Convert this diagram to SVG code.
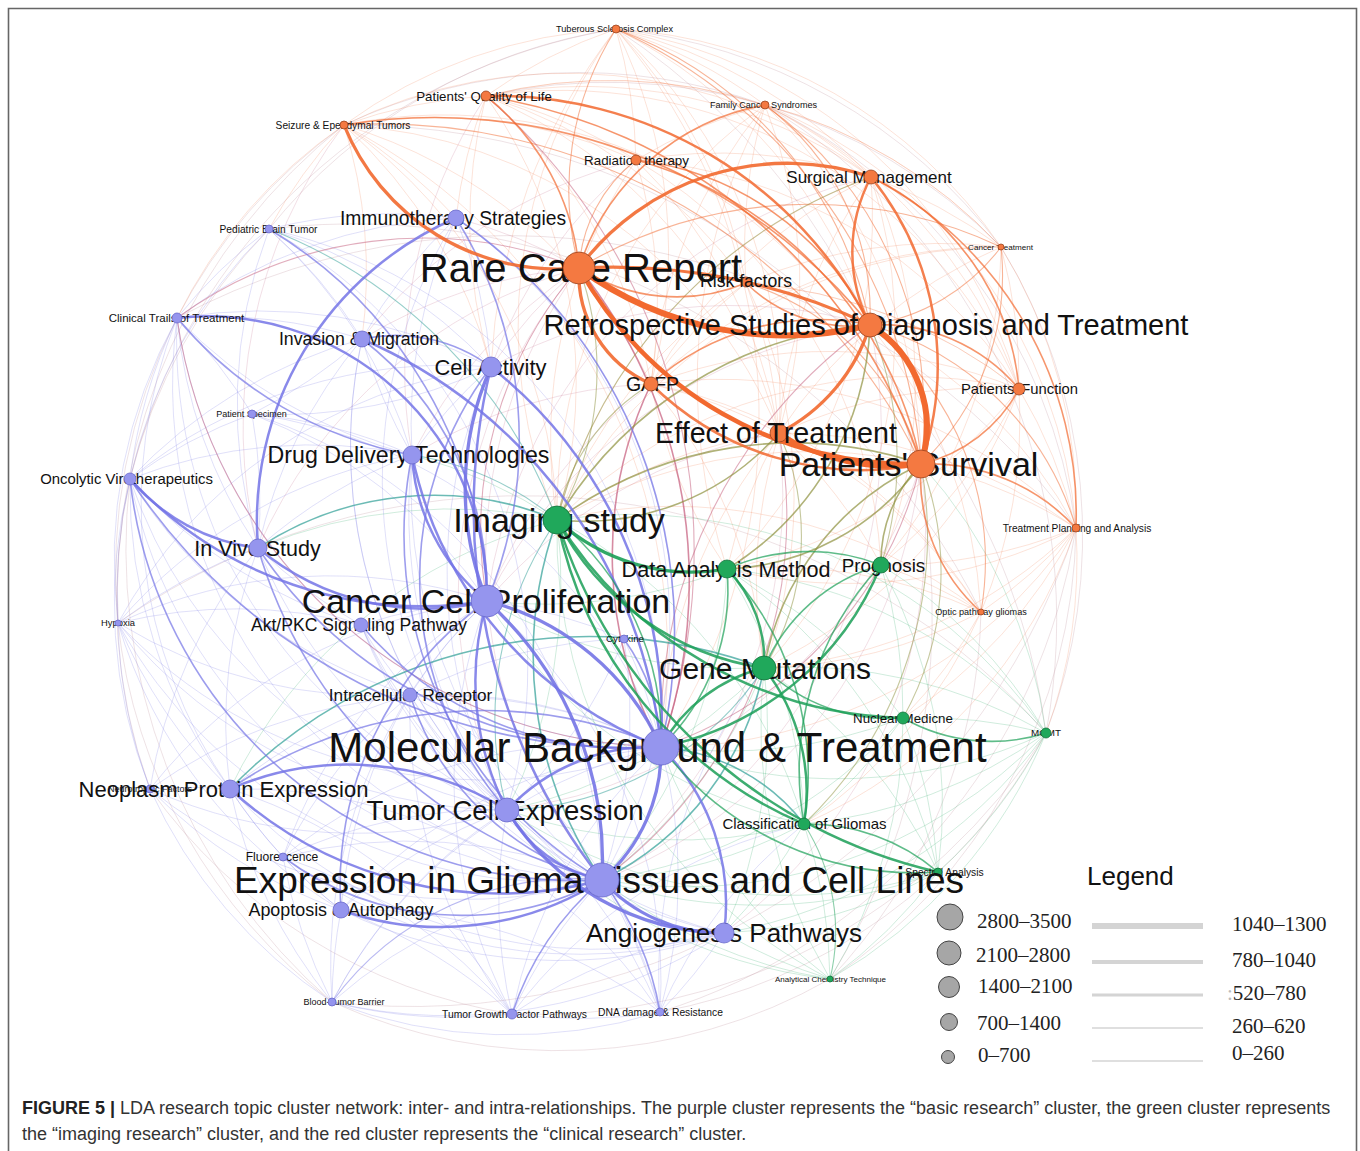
<svg xmlns="http://www.w3.org/2000/svg" width="1360" height="1151" viewBox="0 0 1360 1151">
<style>
.fo path{stroke:#F08050;stroke-width:1;stroke-opacity:.22}
.fp path{stroke:#7C7CE8;stroke-width:1;stroke-opacity:.24}
.fg path{stroke:#2AA866;stroke-width:1;stroke-opacity:.22}
.fx path{stroke:#C06080;stroke-width:1;stroke-opacity:.2}
.fr path{stroke:#C8A0A8;stroke-width:1;stroke-opacity:.3}
.o{stroke:#F2692F}.p{stroke:#7474E6}.g{stroke:#1B9F57}.ol{stroke:#8E913E}.pk{stroke:#C45A7A}.tl{stroke:#2E9E96}
.w1{stroke-width:1.1;stroke-opacity:.5}.w2{stroke-width:1.6;stroke-opacity:.7}.w3{stroke-width:2.5;stroke-opacity:.85}.w4{stroke-width:3.3;stroke-opacity:.9}.w5{stroke-width:4.5}.w6{stroke-width:6}
.no{fill:#F47941;stroke:#9b4420;stroke-width:.8}
.np{fill:#9595EE;stroke:#6a6acb;stroke-width:.8}
.ng{fill:#20A85B;stroke:#11713a;stroke-width:.8}
.lb{font-family:"Liberation Sans",Arial,sans-serif;fill:#111;text-anchor:middle}
.lc{fill:#a6a6a6;stroke:#444;stroke-width:1}
.ll{stroke:#d4d4d4}
.ln{font-family:"Liberation Serif","Times New Roman",serif;font-size:21px;fill:#222}
.cap{font-family:"Liberation Sans",Arial,sans-serif;font-size:18px;fill:#333}
</style>
<rect width="1360" height="1151" fill="#fff"/>
<path d="M8.5 1151V8.5H1356.5V1151" fill="none" stroke="#666" stroke-width="1.6"/>
<g id="connectors" fill="none" stroke-linecap="round">
<g class="fr">
<path d="M616 29A550 550 0 0 1 1001 247"/><path d="M1001 247A550 550 0 0 1 1046 733"/><path d="M1076 528A550 550 0 0 1 830 979"/><path d="M1046 733A550 550 0 0 1 660 1012"/><path d="M830 979A550 550 0 0 1 332 1002"/><path d="M512 1014A550 550 0 0 1 150 789"/><path d="M332 1002A550 550 0 0 1 118 623"/><path d="M150 789A550 550 0 0 1 130 479"/><path d="M118 623A550 550 0 0 1 177 318"/><path d="M130 479A550 550 0 0 1 269 229"/><path d="M177 318A550 550 0 0 1 344 125"/><path d="M269 229A550 550 0 0 1 616 29"/><path d="M344 125A550 550 0 0 1 765 105"/><path d="M765 105A550 550 0 0 1 1076 528"/><path d="M981 612A550 550 0 0 1 830 979"/><path d="M486 96A550 550 0 0 1 1001 247"/>
<path d="M344 125A700 700 0 0 1 1046 733"/><path d="M177 318A700 700 0 0 1 1076 528"/><path d="M118 623A700 700 0 0 1 1046 733"/><path d="M616 29A700 700 0 0 1 830 979"/><path d="M269 229A700 700 0 0 1 981 612"/><path d="M1076 528A700 700 0 0 1 332 1002"/>
<path d="M130 479A600 600 0 0 1 616 29"/><path d="M118 623A600 600 0 0 1 344 125"/><path d="M1046 733A600 600 0 0 1 512 1014"/><path d="M1076 528A600 600 0 0 1 660 1012"/><path d="M332 1002A600 600 0 0 1 130 479"/><path d="M765 105A600 600 0 0 1 1046 733"/>
</g>
<g class="fo">
<path d="M616 29A500 500 0 0 0 486 96"/><path d="M616 29A500 500 0 0 1 636 160"/><path d="M616 29A500 500 0 0 1 871 177"/><path d="M616 29A500 500 0 0 1 765 105"/><path d="M616 29A500 500 0 0 1 651 384"/><path d="M616 29A500 500 0 0 1 779 433"/><path d="M616 29A500 500 0 0 1 1019 389"/><path d="M616 29A500 500 0 0 0 557 520"/><path d="M616 29A500 500 0 0 1 1001 247"/><path d="M616 29A600 600 0 0 1 661 747"/><path d="M616 29A500 500 0 0 1 746 283"/><path d="M616 29A500 500 0 0 0 344 125"/><path d="M616 29A500 500 0 0 1 870 325"/><path d="M616 29A600 600 0 0 0 491 367"/>
<path d="M765 105A500 500 0 0 1 871 177"/><path d="M765 105A500 500 0 0 0 636 160"/><path d="M765 105A500 500 0 0 0 486 96"/><path d="M765 105A500 500 0 0 1 779 433"/><path d="M765 105A500 500 0 0 1 1019 389"/><path d="M765 105A500 500 0 0 1 1001 247"/><path d="M765 105A500 500 0 0 1 1076 528"/><path d="M765 105A500 500 0 0 0 557 520"/><path d="M765 105A500 500 0 0 0 651 384"/><path d="M765 105A500 500 0 0 0 746 283"/><path d="M765 105A500 500 0 0 1 921 464"/><path d="M765 105A600 600 0 0 0 727 569"/>
<path d="M486 96A500 500 0 0 1 636 160"/><path d="M486 96A500 500 0 0 1 871 177"/><path d="M486 96A500 500 0 0 1 765 105"/><path d="M486 96A500 500 0 0 1 651 384"/><path d="M486 96A500 500 0 0 1 779 433"/><path d="M486 96A500 500 0 0 0 456 218"/><path d="M486 96A500 500 0 0 0 344 125"/><path d="M486 96A500 500 0 0 1 557 520"/><path d="M486 96A500 500 0 0 0 491 367"/><path d="M486 96A500 500 0 0 1 1019 389"/><path d="M486 96A500 500 0 0 1 746 283"/>
<path d="M344 125A500 500 0 0 1 636 160"/><path d="M344 125A500 500 0 0 1 456 218"/><path d="M344 125A500 500 0 0 1 779 433"/><path d="M344 125A500 500 0 0 1 651 384"/><path d="M344 125A500 500 0 0 0 269 229"/><path d="M344 125A500 500 0 0 1 557 520"/><path d="M344 125A500 500 0 0 0 177 318"/><path d="M344 125A500 500 0 0 1 362 339"/><path d="M344 125A500 500 0 0 1 871 177"/><path d="M344 125A500 500 0 0 1 921 464"/><path d="M344 125A500 500 0 0 1 491 367"/><path d="M344 125A600 600 0 0 1 661 747"/>
<path d="M1001 247A500 500 0 0 0 871 177"/><path d="M1001 247A500 500 0 0 1 1019 389"/><path d="M1001 247A500 500 0 0 0 779 433"/><path d="M1001 247A500 500 0 0 1 1076 528"/><path d="M1001 247A500 500 0 0 0 765 105"/><path d="M1001 247A500 500 0 0 0 557 520"/><path d="M1001 247A500 500 0 0 0 651 384"/><path d="M1001 247A500 500 0 0 0 746 283"/><path d="M1001 247A500 500 0 0 1 881 565"/>
<path d="M1076 528A500 500 0 0 0 1019 389"/><path d="M1076 528A500 500 0 0 0 779 433"/><path d="M1076 528A500 500 0 0 0 651 384"/><path d="M1076 528A500 500 0 0 0 557 520"/><path d="M1076 528A500 500 0 0 1 727 569"/><path d="M1076 528A500 500 0 0 1 881 565"/><path d="M1076 528A500 500 0 0 1 981 612"/><path d="M1076 528A500 500 0 0 1 764 668"/><path d="M1076 528A500 500 0 0 1 661 747"/><path d="M1076 528A500 500 0 0 1 903 718"/><path d="M1076 528A500 500 0 0 1 1046 733"/><path d="M1076 528A500 500 0 0 0 870 325"/><path d="M1076 528A500 500 0 0 1 804 824"/>
<path d="M981 612A500 500 0 0 0 870 325"/><path d="M981 612A500 500 0 0 0 779 433"/><path d="M981 612A500 500 0 0 0 1019 389"/><path d="M981 612A500 500 0 0 1 764 668"/><path d="M981 612A500 500 0 0 0 881 565"/><path d="M981 612A500 500 0 0 0 557 520"/><path d="M981 612A500 500 0 0 0 727 569"/><path d="M981 612A500 500 0 0 1 903 718"/><path d="M981 612A500 500 0 0 1 804 824"/><path d="M981 612A500 500 0 0 0 651 384"/>
<path d="M636 160A500 500 0 0 1 871 177"/><path d="M636 160A500 500 0 0 1 779 433"/><path d="M636 160A500 500 0 0 1 651 384"/><path d="M636 160A500 500 0 0 0 557 520"/><path d="M636 160A500 500 0 0 1 1019 389"/><path d="M636 160A500 500 0 0 1 881 565"/>
<path d="M871 177A500 500 0 0 0 779 433"/><path d="M871 177A500 500 0 0 0 651 384"/><path d="M871 177A500 500 0 0 0 557 520"/><path d="M871 177A500 500 0 0 1 727 569"/><path d="M871 177A500 500 0 0 1 881 565"/><path d="M871 177A500 500 0 0 1 764 668"/>
<path d="M1019 389A500 500 0 0 0 779 433"/><path d="M1019 389A500 500 0 0 0 651 384"/><path d="M1019 389A500 500 0 0 0 557 520"/><path d="M1019 389A500 500 0 0 1 727 569"/><path d="M1019 389A500 500 0 0 1 881 565"/><path d="M1019 389A500 500 0 0 1 764 668"/><path d="M1019 389A500 500 0 0 0 746 283"/>
<path d="M746 283A500 500 0 0 1 779 433"/><path d="M746 283A500 500 0 0 0 557 520"/><path d="M746 283A500 500 0 0 1 1019 389"/><path d="M746 283A500 500 0 0 0 651 384"/><path d="M746 283A500 500 0 0 1 764 668"/>
<path d="M651 384A500 500 0 0 1 779 433"/><path d="M651 384A500 500 0 0 0 727 569"/><path d="M651 384A500 500 0 0 1 764 668"/>
<path d="M779 433A500 500 0 0 0 727 569"/><path d="M779 433A500 500 0 0 1 881 565"/><path d="M779 433A500 500 0 0 0 764 668"/><path d="M779 433A500 500 0 0 0 661 747"/><path d="M779 433A500 500 0 0 0 557 520"/>
</g>
<g class="fp">
<path d="M118 623A500 500 0 0 1 130 479"/><path d="M118 623A500 500 0 0 1 258 548"/><path d="M118 623A500 500 0 0 1 487 601"/><path d="M118 623A500 500 0 0 1 361 625"/><path d="M118 623A500 500 0 0 0 230 789"/><path d="M118 623A500 500 0 0 0 661 747"/><path d="M118 623A500 500 0 0 0 602 880"/><path d="M118 623A500 500 0 0 1 177 318"/><path d="M118 623A500 500 0 0 1 412 455"/><path d="M118 623A500 500 0 0 0 410 695"/><path d="M118 623A500 500 0 0 0 150 789"/><path d="M118 623A500 500 0 0 0 341 910"/><path d="M118 623A500 500 0 0 0 507 810"/><path d="M118 623A500 500 0 0 1 491 367"/>
<path d="M332 1002A500 500 0 0 1 341 910"/><path d="M332 1002A500 500 0 0 1 602 880"/><path d="M332 1002A500 500 0 0 0 512 1014"/><path d="M332 1002A500 500 0 0 1 230 789"/><path d="M332 1002A500 500 0 0 1 661 747"/><path d="M332 1002A500 500 0 0 1 487 601"/><path d="M332 1002A500 500 0 0 1 507 810"/><path d="M332 1002A500 500 0 0 1 283 857"/><path d="M332 1002A500 500 0 0 0 724 933"/><path d="M332 1002A500 500 0 0 0 660 1012"/><path d="M332 1002A500 500 0 0 1 150 789"/>
<path d="M512 1014A500 500 0 0 1 724 933"/><path d="M512 1014A500 500 0 0 1 602 880"/><path d="M512 1014A500 500 0 0 1 507 810"/><path d="M512 1014A500 500 0 0 1 661 747"/><path d="M512 1014A500 500 0 0 0 341 910"/><path d="M512 1014A500 500 0 0 0 660 1012"/><path d="M512 1014A500 500 0 0 1 487 601"/><path d="M512 1014A500 500 0 0 1 410 695"/><path d="M512 1014A500 500 0 0 0 283 857"/><path d="M512 1014A500 500 0 0 0 230 789"/><path d="M512 1014A500 500 0 0 1 804 824"/>
<path d="M660 1012A500 500 0 0 0 724 933"/><path d="M660 1012A500 500 0 0 0 602 880"/><path d="M660 1012A500 500 0 0 0 661 747"/><path d="M660 1012A500 500 0 0 0 507 810"/><path d="M660 1012A500 500 0 0 0 341 910"/><path d="M660 1012A500 500 0 0 0 487 601"/><path d="M660 1012A500 500 0 0 0 410 695"/><path d="M660 1012A500 500 0 0 0 230 789"/><path d="M660 1012A500 500 0 0 1 804 824"/><path d="M660 1012A500 500 0 0 1 764 668"/>
<path d="M252 414A500 500 0 0 0 177 318"/><path d="M252 414A500 500 0 0 1 258 548"/><path d="M252 414A500 500 0 0 1 412 455"/><path d="M252 414A500 500 0 0 0 362 339"/><path d="M252 414A500 500 0 0 0 130 479"/><path d="M252 414A500 500 0 0 1 487 601"/><path d="M252 414A500 500 0 0 1 661 747"/><path d="M252 414A500 500 0 0 0 491 367"/><path d="M252 414A500 500 0 0 1 602 880"/>
<path d="M269 229A500 500 0 0 0 177 318"/><path d="M269 229A500 500 0 0 1 456 218"/><path d="M269 229A500 500 0 0 1 362 339"/><path d="M269 229A500 500 0 0 1 491 367"/><path d="M269 229A500 500 0 0 1 412 455"/><path d="M269 229A500 500 0 0 0 130 479"/><path d="M269 229A500 500 0 0 1 661 747"/><path d="M269 229A500 500 0 0 0 258 548"/><path d="M269 229A500 500 0 0 1 507 810"/>
<path d="M283 857A500 500 0 0 1 230 789"/><path d="M283 857A500 500 0 0 1 602 880"/><path d="M283 857A500 500 0 0 0 341 910"/><path d="M283 857A500 500 0 0 1 507 810"/><path d="M283 857A500 500 0 0 1 661 747"/><path d="M283 857A500 500 0 0 1 487 601"/><path d="M283 857A500 500 0 0 1 410 695"/><path d="M283 857A500 500 0 0 0 724 933"/>
<path d="M150 789A500 500 0 0 1 230 789"/><path d="M150 789A500 500 0 0 1 130 479"/><path d="M150 789A500 500 0 0 0 602 880"/><path d="M150 789A500 500 0 0 0 507 810"/><path d="M150 789A500 500 0 0 1 661 747"/><path d="M150 789A500 500 0 0 1 258 548"/><path d="M150 789A500 500 0 0 0 341 910"/><path d="M150 789A500 500 0 0 1 487 601"/>
<path d="M624 639A500 500 0 0 0 487 601"/><path d="M624 639A500 500 0 0 1 661 747"/><path d="M624 639A500 500 0 0 1 602 880"/><path d="M624 639A500 500 0 0 1 507 810"/><path d="M624 639A500 500 0 0 0 410 695"/>
<path d="M130 479A500 500 0 0 1 177 318"/><path d="M130 479A500 500 0 0 1 412 455"/><path d="M130 479A500 500 0 0 1 362 339"/><path d="M130 479A500 500 0 0 0 361 625"/><path d="M130 479A500 500 0 0 0 230 789"/><path d="M130 479A500 500 0 0 0 602 880"/><path d="M130 479A500 500 0 0 0 507 810"/><path d="M130 479A500 500 0 0 1 491 367"/><path d="M130 479A500 500 0 0 0 410 695"/>
<path d="M177 318A500 500 0 0 1 362 339"/><path d="M177 318A500 500 0 0 0 258 548"/><path d="M177 318A500 500 0 0 0 412 455"/><path d="M177 318A500 500 0 0 1 491 367"/><path d="M177 318A500 500 0 0 0 661 747"/><path d="M177 318A500 500 0 0 1 456 218"/><path d="M177 318A500 500 0 0 0 602 880"/><path d="M177 318A500 500 0 0 0 507 810"/><path d="M177 318A500 500 0 0 0 230 789"/>
<path d="M456 218A500 500 0 0 0 362 339"/><path d="M456 218A500 500 0 0 1 491 367"/><path d="M456 218A500 500 0 0 0 412 455"/><path d="M456 218A500 500 0 0 1 602 880"/><path d="M456 218A500 500 0 0 0 507 810"/><path d="M456 218A500 500 0 0 1 661 747"/>
<path d="M361 625A500 500 0 0 1 487 601"/><path d="M361 625A500 500 0 0 0 602 880"/><path d="M361 625A500 500 0 0 0 507 810"/><path d="M361 625A500 500 0 0 1 258 548"/><path d="M361 625A500 500 0 0 0 410 695"/><path d="M361 625A500 500 0 0 0 724 933"/>
<path d="M410 695A500 500 0 0 1 487 601"/><path d="M410 695A500 500 0 0 1 661 747"/><path d="M410 695A500 500 0 0 0 507 810"/><path d="M410 695A500 500 0 0 0 724 933"/><path d="M410 695A500 500 0 0 0 230 789"/>
<path d="M341 910A500 500 0 0 1 507 810"/><path d="M341 910A500 500 0 0 1 661 747"/><path d="M341 910A500 500 0 0 0 724 933"/><path d="M341 910A500 500 0 0 1 230 789"/><path d="M341 910A500 500 0 0 1 410 695"/>
<path d="M362 339A500 500 0 0 0 412 455"/><path d="M362 339A500 500 0 0 0 258 548"/><path d="M362 339A500 500 0 0 0 602 880"/><path d="M362 339A500 500 0 0 0 507 810"/><path d="M491 367A500 500 0 0 0 412 455"/><path d="M491 367A500 500 0 0 0 507 810"/><path d="M412 455A500 500 0 0 0 602 880"/><path d="M412 455A500 500 0 0 0 507 810"/><path d="M412 455A500 500 0 0 0 258 548"/><path d="M258 548A500 500 0 0 0 507 810"/><path d="M258 548A500 500 0 0 0 230 789"/><path d="M230 789A500 500 0 0 0 724 933"/>
</g>
<g class="fg">
<path d="M1046 733A500 500 0 0 0 764 668"/><path d="M1046 733A500 500 0 0 0 881 565"/><path d="M1046 733A500 500 0 0 1 938 872"/><path d="M1046 733A500 500 0 0 1 804 824"/><path d="M1046 733A500 500 0 0 0 727 569"/><path d="M1046 733A500 500 0 0 0 557 520"/><path d="M1046 733A500 500 0 0 1 661 747"/><path d="M1046 733A500 500 0 0 0 903 718"/><path d="M1046 733A500 500 0 0 0 921 464"/><path d="M1046 733A500 500 0 0 1 602 880"/><path d="M1046 733A500 500 0 0 1 724 933"/>
<path d="M830 979A500 500 0 0 0 804 824"/><path d="M830 979A500 500 0 0 0 938 872"/><path d="M830 979A500 500 0 0 1 764 668"/><path d="M830 979A500 500 0 0 1 661 747"/><path d="M830 979A500 500 0 0 1 724 933"/><path d="M830 979A500 500 0 0 1 557 520"/><path d="M830 979A500 500 0 0 0 903 718"/><path d="M830 979A500 500 0 0 1 602 880"/><path d="M830 979A500 500 0 0 0 1046 733"/><path d="M830 979A500 500 0 0 1 507 810"/>
<path d="M938 872A500 500 0 0 0 903 718"/><path d="M938 872A500 500 0 0 0 764 668"/><path d="M938 872A500 500 0 0 0 881 565"/><path d="M938 872A500 500 0 0 0 727 569"/><path d="M938 872A500 500 0 0 1 602 880"/><path d="M938 872A500 500 0 0 1 724 933"/><path d="M938 872A500 500 0 0 1 507 810"/>
<path d="M903 718A500 500 0 0 0 881 565"/><path d="M903 718A500 500 0 0 0 727 569"/><path d="M903 718A500 500 0 0 1 804 824"/><path d="M903 718A500 500 0 0 1 661 747"/><path d="M903 718A500 500 0 0 1 602 880"/>
<path d="M804 824A500 500 0 0 0 727 569"/><path d="M804 824A500 500 0 0 1 724 933"/><path d="M804 824A500 500 0 0 1 602 880"/><path d="M804 824A500 500 0 0 1 507 810"/><path d="M804 824A500 500 0 0 0 557 520"/><path d="M804 824A500 500 0 0 1 487 601"/>
<path d="M764 668A500 500 0 0 1 602 880"/><path d="M764 668A500 500 0 0 1 507 810"/><path d="M764 668A500 500 0 0 1 487 601"/><path d="M764 668A500 500 0 0 1 724 933"/><path d="M727 569A500 500 0 0 1 487 601"/><path d="M727 569A500 500 0 0 1 602 880"/><path d="M557 520A500 500 0 0 0 412 455"/><path d="M557 520A500 500 0 0 0 258 548"/><path d="M557 520A500 500 0 0 0 230 789"/><path d="M557 520A500 500 0 0 1 507 810"/>
</g>
<g class="fx">
<path d="M579 268A500 500 0 0 0 491 367"/><path d="M579 268A500 500 0 0 0 456 218"/><path d="M579 268A500 500 0 0 0 412 455"/><path d="M579 268A500 500 0 0 0 362 339"/><path d="M579 268A500 500 0 0 0 507 810"/><path d="M579 268A500 500 0 0 0 602 880"/><path d="M579 268A500 500 0 0 0 258 548"/><path d="M870 325A500 500 0 0 0 487 601"/><path d="M870 325A500 500 0 0 0 491 367"/><path d="M870 325A500 500 0 0 1 602 880"/><path d="M921 464A500 500 0 0 1 602 880"/><path d="M921 464A500 500 0 0 1 724 933"/><path d="M921 464A500 500 0 0 1 507 810"/><path d="M651 384A500 500 0 0 0 487 601"/><path d="M651 384A500 500 0 0 0 412 455"/><path d="M779 433A500 500 0 0 0 487 601"/><path d="M779 433A500 500 0 0 1 602 880"/><path d="M636 160A500 500 0 0 0 491 367"/><path d="M636 160A500 500 0 0 0 362 339"/><path d="M871 177A500 500 0 0 0 487 601"/><path d="M344 125A500 500 0 0 0 258 548"/><path d="M486 96A500 500 0 0 0 412 455"/>
</g>
<path class="o w1" d="M616 29A400 400 0 0 1 870 325"/>
<path class="o w1" d="M616 29A520 520 0 0 1 921 464"/>
<path class="o w1" d="M765 105A380 380 0 0 1 921 464"/>
<path class="o w1" d="M1001 247A260 260 0 0 1 921 464"/>
<path class="o w1" d="M1001 247A450 450 0 0 0 579 268"/>
<path class="o w1" d="M344 125A600 600 0 0 1 921 464"/>
<path class="o w1" d="M981 612A300 300 0 0 0 870 325"/>
<path class="o w1" d="M636 160A150 150 0 0 0 579 268"/>
<path class="o w1" d="M765 105A260 260 0 0 1 870 325"/>
<path class="o w1" d="M616 29A300 300 0 0 0 579 268"/>
<path class="o w1" d="M1076 528A300 300 0 0 0 870 325"/>
<path class="o w1" d="M1001 247A200 200 0 0 1 870 325"/>
<path class="o w1" d="M746 283A260 260 0 0 1 921 464"/>
<path class="pk w1" d="M870 325A500 500 0 0 0 661 747"/>
<path class="pk w1" d="M921 464A400 400 0 0 1 661 747"/>
<path class="pk w1" d="M177 318A420 420 0 0 1 579 268"/>
<path class="pk w1" d="M579 268A400 400 0 0 0 487 601"/>
<path class="pk w1" d="M779 433A450 450 0 0 1 602 880"/>
<path class="pk w1" d="M486 96A600 600 0 0 1 661 747"/>
<path class="pk w1" d="M177 318A500 500 0 0 0 661 747"/>
<path class="pk w2" d="M579 268A500 500 0 0 1 661 747"/>
<path class="pk w2" d="M651 384A400 400 0 0 0 661 747"/>
<path class="tl w2" d="M557 520A400 400 0 0 0 602 880"/>
<path class="tl w2" d="M258 548A320 320 0 0 1 557 520"/>
<path class="tl w1" d="M412 455A300 300 0 0 1 557 520"/>
<path class="tl w2" d="M764 668A300 300 0 0 1 602 880"/>
<path class="tl w1" d="M764 668A320 320 0 0 1 507 810"/>
<path class="tl w2" d="M230 789A500 500 0 0 1 764 668"/>
<path class="tl w1" d="M269 229A500 500 0 0 1 557 520"/>
<path class="tl w1" d="M557 520A350 350 0 0 0 507 810"/>
<path class="ol w2" d="M921 464A400 400 0 0 0 557 520"/>
<path class="ol w2" d="M921 464A140 140 0 0 0 881 565"/>
<path class="ol w2" d="M921 464A280 280 0 0 0 764 668"/>
<path class="ol w2" d="M921 464A250 250 0 0 1 727 569"/>
<path class="ol w2" d="M870 325A400 400 0 0 0 557 520"/>
<path class="ol w2" d="M870 325A300 300 0 0 1 727 569"/>
<path class="ol w2" d="M779 433A260 260 0 0 1 557 520"/>
<path class="ol w1" d="M651 384A200 200 0 0 0 557 520"/>
<path class="ol w1" d="M579 268A300 300 0 0 1 557 520"/>
<path class="ol w1" d="M921 464A300 300 0 0 1 903 718"/>
<path class="ol w1" d="M871 177A500 500 0 0 0 557 520"/>
<path class="ol w1" d="M921 464A400 400 0 0 1 804 824"/>
<path class="ol w1" d="M779 433A250 250 0 0 1 764 668"/>
<path class="ol w1" d="M870 325A350 350 0 0 1 881 565"/>
<path class="p w1" d="M332 1002A300 300 0 0 1 602 880"/>
<path class="p w2" d="M130 479A600 600 0 0 0 661 747"/>
<path class="p w2" d="M258 548A450 450 0 0 0 661 747"/>
<path class="p w2" d="M362 339A320 320 0 0 1 487 601"/>
<path class="p w2" d="M362 339A160 160 0 0 1 491 367"/>
<path class="p w2" d="M230 789A450 450 0 0 1 661 747"/>
<path class="p w2" d="M341 910A350 350 0 0 1 487 601"/>
<path class="p w2" d="M410 695A280 280 0 0 0 602 880"/>
<path class="p w2" d="M361 625A350 350 0 0 0 661 747"/>
<path class="p w2" d="M258 548A480 480 0 0 0 602 880"/>
<path class="p w2" d="M269 229A450 450 0 0 1 487 601"/>
<path class="p w2" d="M456 218A420 420 0 0 1 487 601"/>
<path class="p w2" d="M456 218A500 500 0 0 1 661 747"/>
<path class="p w2" d="M130 479A450 450 0 0 0 602 880"/>
<path class="p w2" d="M177 318A400 400 0 0 0 412 455"/>
<path class="p w2" d="M412 455A400 400 0 0 0 602 880"/>
<path class="p w2" d="M491 367A350 350 0 0 0 507 810"/>
<path class="p w2" d="M512 1014A300 300 0 0 1 602 880"/>
<path class="p w2" d="M660 1012A300 300 0 0 0 602 880"/>
<path class="p w2" d="M283 857A300 300 0 0 0 602 880"/>
<path class="p w2" d="M624 639A200 200 0 0 1 661 747"/>
<path class="p w3" d="M177 318A280 280 0 0 1 487 601"/>
<path class="p w3" d="M456 218A330 330 0 0 0 258 548"/>
<path class="p w3" d="M130 479A200 200 0 0 0 258 548"/>
<path class="p w3" d="M130 479A400 400 0 0 0 487 601"/>
<path class="p w3" d="M258 548A260 260 0 0 0 487 601"/>
<path class="p w4" d="M491 367A300 300 0 0 0 487 601"/>
<path class="p w3" d="M491 367A450 450 0 0 1 661 747"/>
<path class="p w3" d="M491 367A600 600 0 0 0 602 880"/>
<path class="p w4" d="M487 601A350 350 0 0 1 602 880"/>
<path class="p w3" d="M487 601A280 280 0 0 0 507 810"/>
<path class="p w4" d="M487 601A260 260 0 0 1 661 747"/>
<path class="p w3" d="M362 339A500 500 0 0 1 661 747"/>
<path class="p w3" d="M412 455A400 400 0 0 0 661 747"/>
<path class="p w3" d="M412 455A200 200 0 0 0 487 601"/>
<path class="p w3" d="M230 789A300 300 0 0 1 507 810"/>
<path class="p w3" d="M230 789A400 400 0 0 0 602 880"/>
<path class="p w4" d="M507 810A260 260 0 0 0 724 933"/>
<path class="p w4" d="M602 880A160 160 0 0 0 724 933"/>
<path class="p w3" d="M661 747A220 220 0 0 1 724 933"/>
<path class="p w3" d="M507 810A140 140 0 0 0 602 880"/>
<path class="p w4" d="M661 747A170 170 0 0 1 602 880"/>
<path class="p w3" d="M661 747A200 200 0 0 0 507 810"/>
<path class="p w3" d="M341 910A300 300 0 0 0 602 880"/>
<path class="g w1" d="M830 979A200 200 0 0 0 804 824"/>
<path class="g w2" d="M727 569A200 200 0 0 1 881 565"/>
<path class="g w2" d="M727 569A220 220 0 0 1 661 747"/>
<path class="g w2" d="M881 565A180 180 0 0 0 764 668"/>
<path class="g w2" d="M881 565A300 300 0 0 0 804 824"/>
<path class="g w2" d="M764 668A180 180 0 0 0 903 718"/>
<path class="tl w2" d="M661 747A200 200 0 0 1 804 824"/>
<path class="g w2" d="M661 747A320 320 0 0 0 938 872"/>
<path class="g w2" d="M903 718A180 180 0 0 0 1046 733"/>
<path class="g w2" d="M804 824A200 200 0 0 1 938 872"/>
<path class="g w2" d="M727 569A300 300 0 0 1 804 824"/>
<path class="g w2" d="M557 520A280 280 0 0 1 661 747"/>
<path class="g w3" d="M557 520A280 280 0 0 0 764 668"/>
<path class="g w3" d="M557 520A420 420 0 0 0 804 824"/>
<path class="g w3" d="M557 520A420 420 0 0 0 903 718"/>
<path class="g w3" d="M557 520A520 520 0 0 0 938 872"/>
<path class="g w3" d="M727 569A130 130 0 0 1 764 668"/>
<path class="g w3" d="M881 565A300 300 0 0 1 661 747"/>
<path class="g w3" d="M764 668A160 160 0 0 0 661 747"/>
<path class="g w3" d="M764 668A200 200 0 0 1 804 824"/>
<path class="g w4" d="M557 520A200 200 0 0 0 727 569"/>
<path class="o w2" d="M486 96A550 550 0 0 1 921 464"/>
<path class="o w2" d="M486 96A250 250 0 0 1 579 268"/>
<path class="o w2" d="M636 160A400 400 0 0 1 921 464"/>
<path class="o w2" d="M636 160A300 300 0 0 1 870 325"/>
<path class="o w2" d="M765 105A240 240 0 0 0 579 268"/>
<path class="o w2" d="M1019 389A180 180 0 0 0 870 325"/>
<path class="o w2" d="M1019 389A150 150 0 0 1 921 464"/>
<path class="o w2" d="M871 177A260 260 0 0 1 1019 389"/>
<path class="o w2" d="M1076 528A200 200 0 0 0 921 464"/>
<path class="o w2" d="M1076 528A380 380 0 0 0 871 177"/>
<path class="o w2" d="M651 384A250 250 0 0 1 870 325"/>
<path class="o w2" d="M746 283A150 150 0 0 0 870 325"/>
<path class="o w2" d="M746 283A180 180 0 0 1 579 268"/>
<path class="o w2" d="M981 612A180 180 0 0 1 921 464"/>
<path class="o w2" d="M344 125A560 560 0 0 1 870 325"/>
<path class="o w3" d="M486 96A420 420 0 0 1 870 325"/>
<path class="o w3" d="M871 177A300 300 0 0 1 921 464"/>
<path class="o w3" d="M871 177A160 160 0 0 0 870 325"/>
<path class="o w3" d="M651 384A300 300 0 0 0 921 464"/>
<path class="o w4" d="M579 268A600 600 0 0 1 870 325"/>
<path class="o w4" d="M579 268A120 120 0 0 0 651 384"/>
<path class="o w4" d="M870 325A180 180 0 0 1 779 433"/>
<path class="o w4" d="M579 268A260 260 0 0 1 871 177"/>
<path class="o w4" d="M344 125A230 230 0 0 0 579 268"/>
<path class="o w5" d="M579 268A380 380 0 0 0 921 464"/>
<path class="o w5" d="M779 433A200 200 0 0 0 921 464"/>
<path class="o w6" d="M579 268A350 350 0 0 0 870 325"/>
<path class="o w6" d="M870 325A120 120 0 0 1 921 464"/>
</g>
<g id="nodes">
<g id="n-tsc"><text class="lb" x="614.5" y="32.3" font-size="9.2">Tuberous Sclerosis Complex</text><circle class="no" cx="616" cy="29" r="4"/></g>
<g id="n-pql"><text class="lb" x="484" y="100.7" font-size="13.3">Patients' Quality of Life</text><circle class="no" cx="486" cy="96" r="5"/></g>
<g id="n-fcs"><text class="lb" x="763.5" y="108.3" font-size="9.1">Family Cancer Syndromes</text><circle class="no" cx="765" cy="105" r="4"/></g>
<g id="n-set"><text class="lb" x="343" y="128.6" font-size="10.2">Seizure &amp; Ependymal Tumors</text><circle class="no" cx="344" cy="125" r="4"/></g>
<g id="n-rt"><text class="lb" x="636.5" y="164.7" font-size="13.4">Radiation therapy</text><circle class="no" cx="636" cy="160" r="5"/></g>
<g id="n-sm"><text class="lb" x="869" y="183" font-size="17">Surgical Management</text><circle class="no" cx="871" cy="177" r="7"/></g>
<g id="n-ct"><text class="lb" x="1000.5" y="249.9" font-size="8.1">Cancer Treatment</text><circle class="no" cx="1001" cy="247" r="3"/></g>
<g id="n-rf"><circle class="no" cx="746" cy="282" r="5"/><text class="lb" x="746" y="287" font-size="17.6">Risk factors</text></g>
<g id="n-rcr"><text class="lb" x="581" y="282" font-size="40">Rare Case Report</text><circle class="no" cx="579" cy="268" r="16"/></g>
<g id="n-rs"><text class="lb" x="866" y="335.4" font-size="29">Retrospective Studies of Diagnosis and Treatment</text><circle class="no" cx="870" cy="325" r="12"/></g>
<g id="n-gafp"><text class="lb" x="652.5" y="391" font-size="19.5">GAFP</text><circle class="no" cx="651" cy="384" r="7"/></g>
<g id="n-pf"><text class="lb" x="1019.5" y="394.2" font-size="14.8">Patients' Function</text><circle class="no" cx="1019" cy="389" r="6"/></g>
<g id="n-et"><circle class="no" cx="779" cy="433" r="9"/><text class="lb" x="776" y="443" font-size="28.7">Effect of Treatment</text></g>
<g id="n-ps"><text class="lb" x="908.5" y="476" font-size="34">Patients' Survival</text><circle class="no" cx="921" cy="464" r="14"/></g>
<g id="n-tpa"><text class="lb" x="1077" y="531.6" font-size="10.2">Treatment Planning and Analysis</text><circle class="no" cx="1076" cy="528" r="4"/></g>
<g id="n-opg"><text class="lb" x="981" y="615.3" font-size="9.1">Optic pathway gliomas</text><circle class="no" cx="981" cy="612" r="3"/></g>
<g id="n-is"><text class="lb" x="559" y="532" font-size="34">Imaging study</text><circle class="ng" cx="557" cy="520" r="14"/></g>
<g id="n-dam"><text class="lb" x="726" y="576.6" font-size="21.6">Data Analysis Method</text><circle class="ng" cx="727" cy="569" r="9"/></g>
<g id="n-pr"><text class="lb" x="883.5" y="571.6" font-size="18.8">Prognosis</text><circle class="ng" cx="881" cy="565" r="8"/></g>
<g id="n-gm"><text class="lb" x="765" y="678.5" font-size="30">Gene Mutations</text><circle class="ng" cx="764" cy="668" r="12"/></g>
<g id="n-nm"><text class="lb" x="903" y="722.7" font-size="13.3">Nuclear Medicne</text><circle class="ng" cx="903" cy="718" r="6"/></g>
<g id="n-mgmt"><text class="lb" x="1046" y="736.4" font-size="9.8">MGMT</text><circle class="ng" cx="1046" cy="733" r="5"/></g>
<g id="n-cg"><text class="lb" x="804.5" y="829.3" font-size="15">Classification of Gliomas</text><circle class="ng" cx="804" cy="824" r="6"/></g>
<g id="n-sa"><text class="lb" x="944.5" y="875.6" font-size="10.3">Spectral Analysis</text><circle class="ng" cx="938" cy="872" r="4"/></g>
<g id="n-act"><text class="lb" x="830.5" y="981.8" font-size="8">Analytical Chemistry Technique</text><circle class="ng" cx="830" cy="979" r="3"/></g>
<g id="n-ims"><text class="lb" x="453" y="224.8" font-size="19.3">Immunotherapy Strategies</text><circle class="np" cx="456" cy="218" r="8"/></g>
<g id="n-pbt"><text class="lb" x="268.5" y="232.6" font-size="10.2">Pediatric Brain Tumor</text><circle class="np" cx="269" cy="229" r="4"/></g>
<g id="n-ctt"><text class="lb" x="176.5" y="322" font-size="11.5">Clinical Trails of Treatment</text><circle class="np" cx="177" cy="318" r="5"/></g>
<g id="n-im"><text class="lb" x="359" y="345.2" font-size="17.7">Invasion &amp; Migration</text><circle class="np" cx="362" cy="339" r="8"/></g>
<g id="n-ca"><text class="lb" x="490.5" y="374.7" font-size="21.9">Cell Activity</text><circle class="np" cx="491" cy="367" r="10"/></g>
<g id="n-psp"><text class="lb" x="251.5" y="417.2" font-size="9">Patient Specimen</text><circle class="np" cx="252" cy="414" r="4"/></g>
<g id="n-ddt"><text class="lb" x="408.5" y="463.1" font-size="23.2">Drug Delivery Technologies</text><circle class="np" cx="412" cy="455" r="9"/></g>
<g id="n-ov"><text class="lb" x="126.5" y="484.2" font-size="14.9">Oncolytic Virotherapeutics</text><circle class="np" cx="130" cy="479" r="6"/></g>
<g id="n-ivs"><text class="lb" x="257.5" y="555.5" font-size="21.5">In Vivo Study</text><circle class="np" cx="258" cy="548" r="9"/></g>
<g id="n-ccp"><text class="lb" x="486" y="613" font-size="34">Cancer Cell Proliferation</text><circle class="np" cx="487" cy="601" r="16"/></g>
<g id="n-hy"><text class="lb" x="118" y="626.3" font-size="9.4">Hypoxia</text><circle class="np" cx="118" cy="623" r="3"/></g>
<g id="n-akt"><text class="lb" x="359" y="631.2" font-size="17.6">Akt/PKC Signaling Pathway</text><circle class="np" cx="361" cy="625" r="7"/></g>
<g id="n-cy"><text class="lb" x="625" y="642.4" font-size="9.8">Cytokine</text><circle class="np" cx="624" cy="639" r="4"/></g>
<g id="n-ir"><text class="lb" x="410.5" y="701" font-size="17.2">Intracellular Receptor</text><circle class="np" cx="410" cy="695" r="7"/></g>
<g id="n-mbt"><text class="lb" x="657.5" y="761.7" font-size="42">Molecular Background &amp; Treatment</text><circle class="np" cx="661" cy="747" r="18"/></g>
<g id="n-nf"><text class="lb" x="150" y="792.2" font-size="9">Neurotrophic Factors</text><circle class="np" cx="150" cy="789" r="4"/></g>
<g id="n-npe"><text class="lb" x="223.5" y="796.7" font-size="22">Neoplasm Protein Expression</text><circle class="np" cx="230" cy="789" r="9"/></g>
<g id="n-tce"><text class="lb" x="505" y="819.6" font-size="27.5">Tumor Cell Expression</text><circle class="np" cx="507" cy="810" r="12"/></g>
<g id="n-fl"><text class="lb" x="282" y="861.2" font-size="12.1">Fluorescence</text><circle class="np" cx="283" cy="857" r="4"/></g>
<g id="n-egt"><text class="lb" x="599" y="893" font-size="37">Expression in Glioma Tissues and Cell Lines</text><circle class="np" cx="602" cy="880" r="17"/></g>
<g id="n-aa"><text class="lb" x="341" y="916.3" font-size="17.9">Apoptosis &amp; Autophagy</text><circle class="np" cx="341" cy="910" r="8"/></g>
<g id="n-ap"><text class="lb" x="724" y="942" font-size="26">Angiogenesis Pathways</text><circle class="np" cx="724" cy="933" r="10"/></g>
<g id="n-btb"><text class="lb" x="344" y="1005" font-size="9">Blood-Tumor Barrier</text><circle class="np" cx="332" cy="1002" r="4"/></g>
<g id="n-tgf"><text class="lb" x="514.5" y="1017.6" font-size="10.3">Tumor Growth Factor Pathways</text><circle class="np" cx="512" cy="1014" r="5"/></g>
<g id="n-dna"><text class="lb" x="660.5" y="1015.6" font-size="10.3">DNA damage &amp; Resistance</text><circle class="np" cx="660" cy="1012" r="4"/></g>
</g>
<g id="legend">
<text x="1087" y="885" font-family="Liberation Sans, Arial, sans-serif" font-size="26" fill="#111">Legend</text>
<circle class="lc" cx="950" cy="917" r="13"/>
<circle class="lc" cx="949" cy="953" r="12"/>
<circle class="lc" cx="949" cy="987" r="10.5"/>
<circle class="lc" cx="949" cy="1022" r="8.5"/>
<circle class="lc" cx="948" cy="1057" r="6.5"/>
<text class="ln" x="977" y="928">2800–3500</text>
<text class="ln" x="976" y="962">2100–2800</text>
<text class="ln" x="978" y="993">1400–2100</text>
<text class="ln" x="977" y="1030">700–1400</text>
<text class="ln" x="978" y="1062">0–700</text>
<path class="ll" d="M1092 926H1203" stroke-width="6"/>
<path class="ll" d="M1092 962H1203" stroke-width="4"/>
<path class="ll" d="M1092 995H1203" stroke-width="3"/>
<path class="ll" d="M1092 1028H1203" stroke-width="1.5"/>
<path class="ll" d="M1092 1061H1203" stroke-width="1.5"/>
<text class="ln" x="1232" y="931">1040–1300</text>
<text class="ln" x="1232" y="967">780–1040</text>
<text class="ln" x="1227" y="1000"><tspan fill="#bbb">:</tspan>520–780</text>
<text class="ln" x="1232" y="1033">260–620</text>
<text class="ln" x="1232" y="1060">0–260</text>
</g>
<g id="caption">
<text class="cap" x="22" y="1114"><tspan font-weight="bold" fill="#222">FIGURE 5 |</tspan> LDA research topic cluster network: inter- and intra-relationships. The purple cluster represents the “basic research” cluster, the green cluster represents</text>
<text class="cap" x="22" y="1140">the “imaging research” cluster, and the red cluster represents the “clinical research” cluster.</text>
</g>
</svg>
